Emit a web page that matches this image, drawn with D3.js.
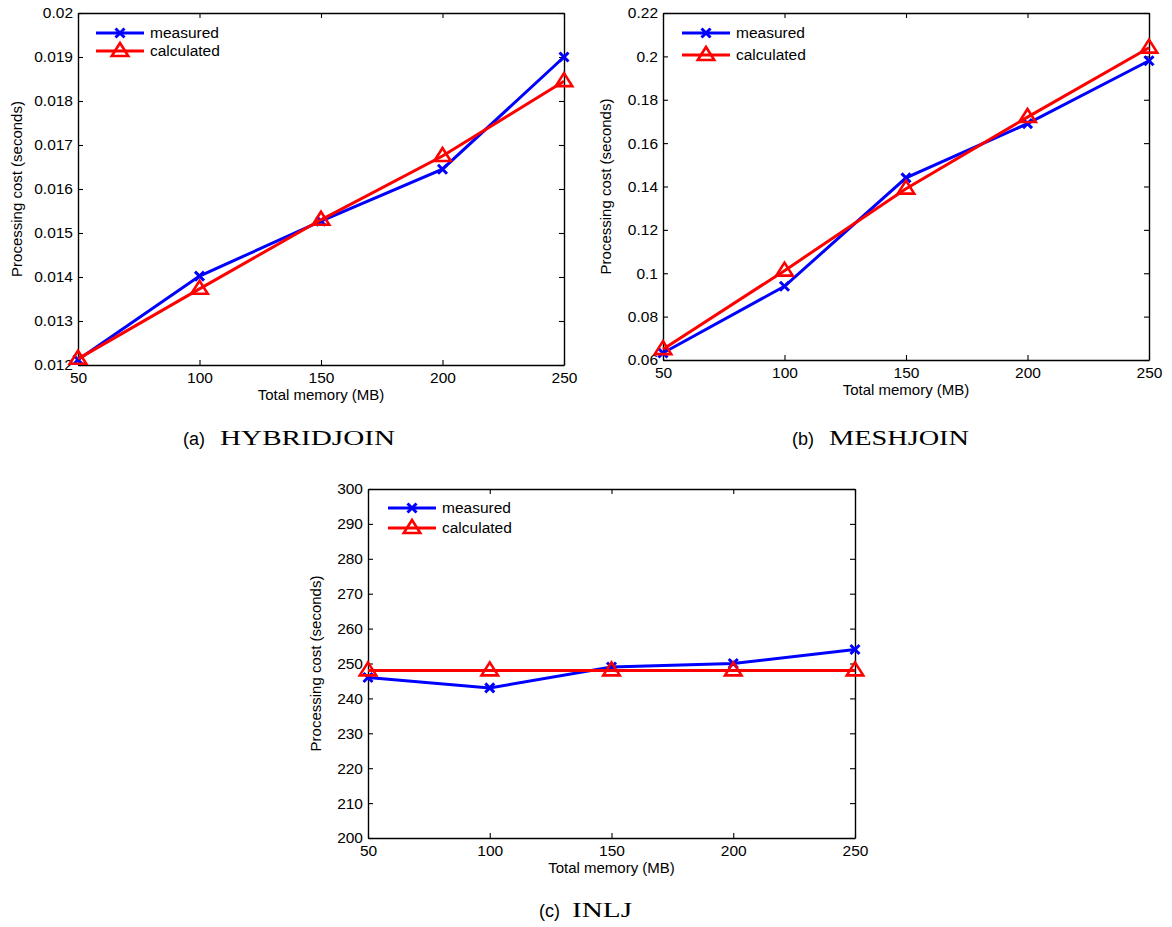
<!DOCTYPE html>
<html>
<head>
<meta charset="utf-8">
<script src="https://cdn.jsdelivr.net/npm/d3@7"></script>
<style>
  html, body { margin: 0; padding: 0; background: #fff; }
  svg { display: block; }
  text { font-family: "Liberation Sans", Arial, Helvetica, sans-serif; fill: #000; }
  .serif { font-family: "Liberation Serif", "DejaVu Serif", serif; }
</style>
</head>
<body>
<script>
// ---------- data ----------
const memory = [50, 100, 150, 200, 250];
const xTicks = [50, 100, 150, 200, 250];

const hybridMeasured   = [0.01212, 0.01402, 0.01527, 0.01645, 0.0190];
const hybridCalculated = [0.01214, 0.01373, 0.0153, 0.01675, 0.01845];
const hybridTicks = [0.012, 0.013, 0.014, 0.015, 0.016, 0.017, 0.018, 0.019, 0.02];

const meshMeasured   = [0.0632, 0.094, 0.144, 0.169, 0.198];
const meshCalculated = [0.065, 0.1012, 0.139, 0.172, 0.204];
const meshTicks = [0.06, 0.08, 0.1, 0.12, 0.14, 0.16, 0.18, 0.2, 0.22];

const inljMeasured   = [246, 243, 249, 250, 254];
const inljCalculated = [248, 248, 248, 248, 248];
const inljTicks = [200, 210, 220, 230, 240, 250, 260, 270, 280, 290, 300];

const seriesNames = ["measured", "calculated"];
const xLabel = "Total memory (MB)";
const yLabel = "Processing cost (seconds)";

// ---------- layout ----------
const W = 1172, H = 927;
const svg = d3.select("body").append("svg").attr("width", W).attr("height", H);

const panels = [
  { measured: hybridMeasured, calculated: hybridCalculated, ticks: hybridTicks,
    L: 78, R: 564, T: 13, B: 365, yLabX: 17, legX: 96, legY: [33, 51],
    capLetter: "(a)", capName: "HYBRIDJOIN", capLX: 183, capNX: 220, capNW: 175, capY: 445 },
  { measured: meshMeasured, calculated: meshCalculated, ticks: meshTicks,
    L: 663, R: 1149, T: 13, B: 360, yLabX: 606, legX: 682, legY: [33, 55],
    capLetter: "(b)", capName: "MESHJOIN", capLX: 792, capNX: 829, capNW: 140, capY: 445 },
  { measured: inljMeasured, calculated: inljCalculated, ticks: inljTicks,
    L: 368, R: 855, T: 489, B: 838, yLabX: 316, legX: 388, legY: [508, 528],
    capLetter: "(c)", capName: "INLJ", capLX: 539, capNX: 572, capNW: 60, capY: 917 }
];

const fmt = d => String(+d.toFixed(4));
const colors = ["#0000ff", "#ff0000"];

function drawMarker(g, type, x, y, color) {
  if (type === 0) {
    const s = 4.5;
    g.append("path")
      .attr("d", `M${x - s},${y - s}L${x + s},${y + s}M${x - s},${y + s}L${x + s},${y - s}`)
      .attr("stroke", color).attr("stroke-width", 3).attr("fill", "none");
  } else {
    const h = 13, w = 16.5;
    g.append("path")
      .attr("d", `M${x},${y - h * 0.62}L${x + w / 2},${y + h * 0.38}L${x - w / 2},${y + h * 0.38}Z`)
      .attr("stroke", color).attr("stroke-width", 2.6).attr("fill", "none")
      .attr("stroke-linejoin", "miter");
  }
}

panels.forEach(p => {
  const x = d3.scaleLinear().domain([50, 250]).range([p.L, p.R]);
  const y = d3.scaleLinear().domain([p.ticks[0], p.ticks[p.ticks.length - 1]]).range([p.B, p.T]);
  const g = svg.append("g");

  // axes with inward ticks on all four sides
  const tl = 5;
  const axB = d3.axisBottom(x).tickValues(xTicks).tickSizeInner(-tl).tickSizeOuter(0).tickPadding(7).tickFormat(d => d);
  const axT = d3.axisTop(x).tickValues(xTicks).tickSizeInner(-tl).tickSizeOuter(0).tickFormat("");
  const axL = d3.axisLeft(y).tickValues(p.ticks).tickSizeInner(-tl).tickSizeOuter(0).tickPadding(5).tickFormat(fmt);
  const axR = d3.axisRight(y).tickValues(p.ticks).tickSizeInner(-tl).tickSizeOuter(0).tickFormat("");

  [[axB, `translate(0,${p.B})`], [axT, `translate(0,${p.T})`],
   [axL, `translate(${p.L},0)`], [axR, `translate(${p.R},0)`]].forEach(([ax, tr]) => {
    const a = g.append("g").attr("transform", tr).call(ax);
    a.select(".domain").attr("stroke", "#000").attr("stroke-width", 1.4);
    a.selectAll(".tick line").attr("stroke", "#000").attr("stroke-width", 1.1);
    a.selectAll(".tick text").attr("font-size", 15.5).attr("fill", "#000")
      .attr("font-family", '"Liberation Sans", Arial, sans-serif');
  });

  // axis labels
  g.append("text").attr("x", (p.L + p.R) / 2).attr("y", p.B + 35)
    .attr("text-anchor", "middle").attr("font-size", 15).text(xLabel);
  g.append("text").attr("transform", `translate(${p.yLabX},${(p.T + p.B) / 2}) rotate(-90)`)
    .attr("text-anchor", "middle").attr("dy", "0.35em").attr("font-size", 15).text(yLabel);

  // series
  const line = d3.line().x((d, i) => x(memory[i])).y(d => y(d));
  [p.measured, p.calculated].forEach((vals, si) => {
    g.append("path").datum(vals).attr("d", line)
      .attr("fill", "none").attr("stroke", colors[si]).attr("stroke-width", 3)
      .attr("stroke-linejoin", "miter");
    vals.forEach((v, i) => drawMarker(g, si, x(memory[i]), y(v), colors[si]));
  });

  // legend
  seriesNames.forEach((name, si) => {
    const ly = p.legY[si];
    g.append("line").attr("x1", p.legX).attr("x2", p.legX + 48).attr("y1", ly).attr("y2", ly)
      .attr("stroke", colors[si]).attr("stroke-width", 3);
    drawMarker(g, si, p.legX + 24, ly, colors[si]);
    g.append("text").attr("x", p.legX + 54).attr("y", ly).attr("dy", "0.35em")
      .attr("font-size", 15.5).text(name);
  });

  // caption
  g.append("text").attr("x", p.capLX).attr("y", p.capY).attr("font-size", 18).text(p.capLetter);
  g.append("text").attr("class", "serif").attr("x", p.capNX).attr("y", p.capY)
    .attr("font-size", 22).attr("textLength", p.capNW).attr("lengthAdjust", "spacingAndGlyphs")
    .text(p.capName);
});
</script>
</body>
</html>
